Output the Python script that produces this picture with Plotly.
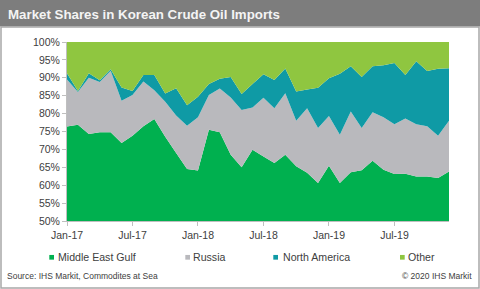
import plotly.graph_objects as go

# ---------------- data ----------------
months = ["Jan-17", "Feb-17", "Mar-17", "Apr-17", "May-17", "Jun-17",
          "Jul-17", "Aug-17", "Sep-17", "Oct-17", "Nov-17", "Dec-17",
          "Jan-18", "Feb-18", "Mar-18", "Apr-18", "May-18", "Jun-18",
          "Jul-18", "Aug-18", "Sep-18", "Oct-18", "Nov-18", "Dec-18",
          "Jan-19", "Feb-19", "Mar-19", "Apr-19", "May-19", "Jun-19",
          "Jul-19", "Aug-19", "Sep-19", "Oct-19", "Nov-19", "Dec-19"]

middle_east_gulf = [76.4, 76.9, 74.3, 74.8, 74.8, 71.8, 73.8, 76.5, 78.5, 73.5, 69.0, 64.5,
                    64.1, 75.5, 74.8, 68.5, 65.0, 69.9, 68.0, 66.2, 68.5, 65.3, 63.5, 60.6,
                    65.4, 60.6, 63.6, 64.2, 66.8, 64.3, 63.1, 63.2, 62.4, 62.4, 62.0, 63.8]
russia = [13.1, 9.1, 15.7, 14.0, 17.2, 11.8, 11.4, 12.5, 8.0, 9.8, 10.5, 12.1,
          14.9, 9.7, 12.2, 16.0, 16.0, 11.8, 16.4, 15.3, 17.2, 12.7, 18.0, 15.4,
          13.9, 13.5, 17.0, 11.8, 13.6, 14.7, 13.9, 15.4, 14.6, 14.1, 11.8, 14.2]
north_america = [1.8, 0.3, 1.3, 0.5, 0.4, 3.7, 1.1, 1.8, 4.3, 2.3, 7.6, 5.7,
                 5.7, 3.1, 2.7, 5.7, 4.5, 6.6, 6.6, 7.9, 6.9, 8.2, 5.2, 11.2,
                 10.6, 17.0, 12.6, 14.2, 12.8, 14.5, 17.1, 12.2, 17.6, 15.4, 18.7, 14.7]
other = [8.7, 13.7, 8.7, 10.7, 7.6, 12.7, 13.7, 9.2, 9.2, 14.4, 12.9, 17.7,
         15.3, 11.7, 10.3, 9.8, 14.5, 11.7, 9.0, 10.6, 7.4, 13.8, 13.3, 12.8,
         10.1, 8.9, 6.8, 9.8, 6.8, 6.5, 5.9, 9.2, 5.4, 8.1, 7.5, 7.3]

series_names = ["Middle East Gulf", "Russia", "North America", "Other"]
series_values = [middle_east_gulf, russia, north_america, other]
x_tick_labels = ["Jan-17", "Jul-17", "Jan-18", "Jul-18", "Jan-19", "Jul-19"]

title_text = "Market Shares in Korean Crude Oil Imports"
source_text = "Source: IHS Markit, Commodites at Sea"
copyright_text = "\u00a9 2020 IHS Markit"

# ---------------- style ----------------
colors = ["#00b04f", "#b9b9bd", "#0f9aa5", "#8fc640"]
W, H = 480, 289
ML, MR, MT, MB = 67, 31, 42, 68
PW, PH = W - ML - MR, H - MT - MB
FONT = "Arial, Liberation Sans, sans-serif"
TXT = "#404040"


def px(x):
    return (x - ML) / PW


def py(y):
    return (H - MB - y) / PH


fig = go.Figure()
for name, vals, col in zip(series_names, series_values, colors):
    fig.add_trace(go.Scatter(
        x=months, y=vals, name=name, stackgroup="one", mode="none",
        fillcolor=col, showlegend=False, hoverinfo="x+y+name"))

shapes = [
    dict(type="rect", xref="paper", yref="paper", x0=px(0), x1=px(W), y0=py(26.5), y1=py(0),
         fillcolor="#7d7d7d", line=dict(width=0), layer="below"),
    dict(type="rect", xref="paper", yref="paper", x0=px(1), x1=px(479), y0=py(288), y1=py(27),
         fillcolor="rgba(0,0,0,0)", line=dict(color="#a8a8a8", width=1.5), layer="below"),
]

annotations = [
    dict(text="<b>%s</b>" % title_text, xref="paper", yref="paper", x=px(6), y=py(14.5),
         xanchor="left", yanchor="middle", showarrow=False,
         font=dict(family=FONT, size=13.3, color="#f4f4f4")),
    dict(text=source_text, xref="paper", yref="paper", x=px(5), y=py(276),
         xanchor="left", yanchor="middle", showarrow=False,
         font=dict(family=FONT, size=8.5, color=TXT)),
    dict(text=copyright_text, xref="paper", yref="paper", x=px(474), y=py(276),
         xanchor="right", yanchor="middle", showarrow=False,
         font=dict(family=FONT, size=8.5, color=TXT)),
]

# legend (swatch + label) positions
leg_sq_x = [49.3, 185.3, 273.3, 400.0]
leg_txt_x = [55.5, 191.0, 280.5, 405.5]
leg_y = 257.3
sq = 4.7
for name, col, sx, tx in zip(series_names, colors, leg_sq_x, leg_txt_x):
    shapes.append(dict(type="rect", xref="paper", yref="paper",
                       x0=px(sx), x1=px(sx + sq), y0=py(leg_y + sq / 2), y1=py(leg_y - sq / 2),
                       fillcolor=col, line=dict(width=0)))
    annotations.append(dict(text=name, xref="paper", yref="paper", x=px(tx), y=py(leg_y),
                            xanchor="left", yanchor="middle", showarrow=False,
                            font=dict(family=FONT, size=10.6, color=TXT)))

fig.update_layout(
    width=W, height=H,
    margin=dict(l=ML, r=MR, t=MT, b=MB, pad=0),
    paper_bgcolor="white", plot_bgcolor="white",
    showlegend=False,
    font=dict(family=FONT, size=10.5, color=TXT),
    shapes=shapes, annotations=annotations,
    xaxis=dict(type="category", range=[0, len(months) - 1], tickmode="array",
               tickvals=x_tick_labels, ticktext=x_tick_labels,
               showgrid=False, zeroline=False, showline=True, linecolor="#bfbfbf", linewidth=1,
               ticks="outside", ticklen=4, tickcolor="#bfbfbf",
               tickfont=dict(family=FONT, size=10.5, color=TXT)),
    yaxis=dict(range=[50, 100], tick0=50, dtick=5, ticksuffix="%",
               showgrid=False, zeroline=False, showline=True, linecolor="#bfbfbf", linewidth=1,
               ticks="outside", ticklen=4, tickcolor="#bfbfbf",
               tickfont=dict(family=FONT, size=10.5, color=TXT)),
)

fig.write_html("out.html")
